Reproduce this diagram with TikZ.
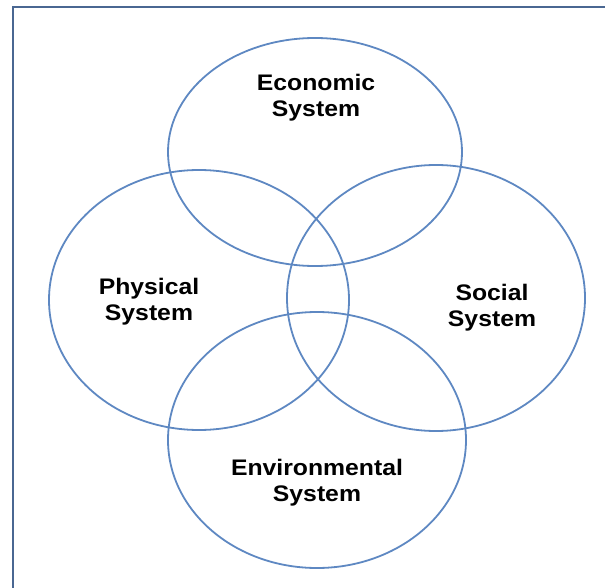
\documentclass[tikz,border=0pt]{standalone}
\usepackage{fontspec}
\setmainfont{Liberation Sans}
\newfontfamily\labelfont[FakeStretch=1.1]{Liberation Sans}
\usepackage{xcolor}
\usepackage{tikz}
\usetikzlibrary{positioning}
\definecolor{ringblue}{HTML}{5E88C2}
\definecolor{framegrey}{HTML}{4A6792}

\begin{document}
\begin{tikzpicture}[x=1pt, y=-1pt,
		ring/.style={draw=ringblue, line width=1.8pt},
		label/.style={align=center, font=\labelfont\fontsize{22.5}{26}\selectfont\bfseries}]
		
		\useasboundingbox (0,0) rectangle (605,588);
		\draw[framegrey, line width=2.6pt] (13,610) -- (13,7) -- (620,7);
		
		\draw[ring] (315,152) ellipse (147 and 114);
		\draw[ring] (199,300) ellipse (150 and 130);
		\draw[ring] (436,298) ellipse (149 and 133);
		\draw[ring] (317,440) ellipse (149 and 128);
		
		\node[label] (eco) at (316,98) {Economic\\System};
		\node[label] (phy) at (149,302) {Physical\\System};
		\node[label] (soc) at (492,308) {Social\\System};
		\node[label] (env) at (317,483) {Environmental\\System};
	\end{tikzpicture}
\end{document}
